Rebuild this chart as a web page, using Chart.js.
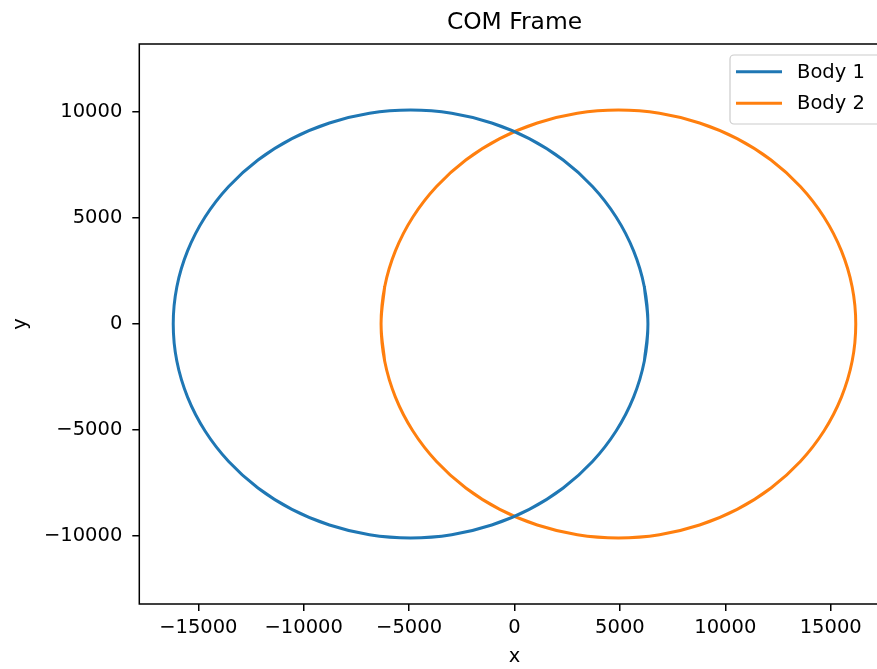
<!DOCTYPE html>
<html>
<head>
<meta charset="utf-8">
<script src="https://cdn.jsdelivr.net/npm/chart.js@4/dist/chart.umd.min.js"></script>
<style>
  html, body { margin: 0; padding: 0; background: #fff; overflow: hidden; }
  #wrap { width: 877px; height: 669px; overflow: hidden; }
</style>
</head>
<body>
<div id="wrap"><canvas id="orbitChart" width="900" height="669"></canvas></div>
<script>
// points, every 10 degrees round each orbit
// (one extra point at each end so the closed loop has no kink)
const body1X = [6160, 6330, 6160, 5650, 4820, 3700, 2310, 700, -1080, -2980, -4930,
  -6880, -8780, -10560, -12170, -13560, -14680, -15510, -16020, -16190,
  -16020, -15510, -14680, -13560, -12170, -10560, -8780, -6880, -4930,
  -2980, -1080, 700, 2310, 3700, 4820, 5650, 6160, 6330, 6160];
const body1Y = [-1750, 0, 1750, 3450, 5050, 6490, 7740, 8750, 9490, 9950, 10100,
  9950, 9490, 8750, 7740, 6490, 5050, 3450, 1750, 0,
  -1750, -3450, -5050, -6490, -7740, -8750, -9490, -9950, -10100,
  -9950, -9490, -8750, -7740, -6490, -5050, -3450, -1750, 0, 1750];
const body2X = [-6160, -6330, -6160, -5650, -4820, -3700, -2310, -700, 1080, 2980, 4930,
  6880, 8780, 10560, 12170, 13560, 14680, 15510, 16020, 16190,
  16020, 15510, 14680, 13560, 12170, 10560, 8780, 6880, 4930,
  2980, 1080, -700, -2310, -3700, -4820, -5650, -6160, -6330, -6160];
const body2Y = [-1750, 0, 1750, 3450, 5050, 6490, 7740, 8750, 9490, 9950, 10100,
  9950, 9490, 8750, 7740, 6490, 5050, 3450, 1750, 0,
  -1750, -3450, -5050, -6490, -7740, -8750, -9490, -9950, -10100,
  -9950, -9490, -8750, -7740, -6490, -5050, -3450, -1750, 0, 1750];

const seriesNames = ['Body 1', 'Body 2'];
const seriesColors = ['#1f77b4', '#ff7f0e'];
const xTicks = [-15000, -10000, -5000, 0, 5000, 10000, 15000];
const yTicks = [-10000, -5000, 0, 5000, 10000];
const xRange = [-17800, 17800];
const yRange = [-13220, 13220];

const FONT = "'DejaVu Sans', sans-serif";
const fmt = v => String(v).replace('-', '\u2212');
const toPoints = (xs, ys) => xs.map((x, i) => ({x: x, y: ys[i]}));

// title, frame and legend drawn like matplotlib
const decor = {
    id: 'decor',
    afterDatasetsDraw(chart) {
        const {ctx, chartArea: a} = chart;
        ctx.save();
        ctx.strokeStyle = '#000';
        ctx.lineWidth = 1.5;
        ctx.strokeRect(a.left, a.top, a.right - a.left, a.bottom - a.top);

        ctx.fillStyle = '#000';
        ctx.font = '23.4px ' + FONT;
        ctx.textAlign = 'center';
        ctx.textBaseline = 'alphabetic';
        ctx.fillText('COM Frame', (a.left + a.right) / 2, 28.5);

        // legend box
        const bx = 730, by = 55, bw = 152, bh = 69, r = 4;
        ctx.beginPath();
        ctx.roundRect(bx, by, bw, bh, r);
        ctx.fillStyle = 'rgba(255,255,255,0.8)';
        ctx.fill();
        ctx.strokeStyle = '#cccccc';
        ctx.lineWidth = 1.2;
        ctx.stroke();

        ctx.font = '19.5px ' + FONT;
        ctx.textAlign = 'left';
        ctx.textBaseline = 'middle';
        chart.data.datasets.forEach((ds, i) => {
            const ly = 71.7 + i * 31.6;
            ctx.beginPath();
            ctx.moveTo(736, ly);
            ctx.lineTo(782, ly);
            ctx.strokeStyle = ds.borderColor;
            ctx.lineWidth = 3;
            ctx.stroke();
            ctx.fillStyle = '#000';
            ctx.fillText(ds.label, 797, ly + 1);
        });
        ctx.restore();
    }
};

const ctx = document.getElementById('orbitChart').getContext('2d');
new Chart(ctx, {
    type: 'scatter',
    data: {
        datasets: [
            {label: seriesNames[0], data: toPoints(body1X, body1Y)},
            {label: seriesNames[1], data: toPoints(body2X, body2Y)}
        ].map((d, i) => Object.assign(d, {
            showLine: true,
            borderColor: seriesColors[i],
            backgroundColor: seriesColors[i],
            borderWidth: 3,
            pointRadius: 0,
            tension: 0.4
        }))
    },
    options: {
        responsive: false,
        devicePixelRatio: 1,
        animation: false,
        layout: {padding: {left: 0, right: 10.3, top: 44, bottom: 0}},
        plugins: {
            legend: {display: false},
            title: {display: false},
            tooltip: {enabled: false}
        },
        scales: {
            x: {
                type: 'linear',
                min: xRange[0],
                max: xRange[1],
                afterBuildTicks: s => { s.ticks = xTicks.map(v => ({value: v})); },
                afterFit: s => { s.height = 65; },
                grid: {drawOnChartArea: false, tickLength: 7, tickColor: '#000', lineWidth: 1.5},
                border: {display: false},
                ticks: {
                    font: {family: FONT, size: 19.5},
                    color: '#000',
                    padding: 5,
                    maxRotation: 0,
                    callback: v => fmt(v)
                },
                title: {
                    display: true,
                    text: 'x',
                    font: {family: FONT, size: 19.5},
                    color: '#000',
                    padding: {top: 0, bottom: 0}
                }
            },
            y: {
                type: 'linear',
                min: yRange[0],
                max: yRange[1],
                afterBuildTicks: s => { s.ticks = yTicks.map(v => ({value: v})); },
                afterFit: s => { s.width = 139.3; },
                grid: {drawOnChartArea: false, tickLength: 7, tickColor: '#000', lineWidth: 1.5},
                border: {display: false},
                ticks: {
                    font: {family: FONT, size: 19.5},
                    color: '#000',
                    padding: 10,
                    callback: v => fmt(v)
                },
                title: {
                    display: true,
                    text: 'y',
                    font: {family: FONT, size: 19.5},
                    color: '#000',
                    padding: {top: 9, bottom: 0}
                }
            }
        }
    },
    plugins: [decor]
});
</script>
</body>
</html>
